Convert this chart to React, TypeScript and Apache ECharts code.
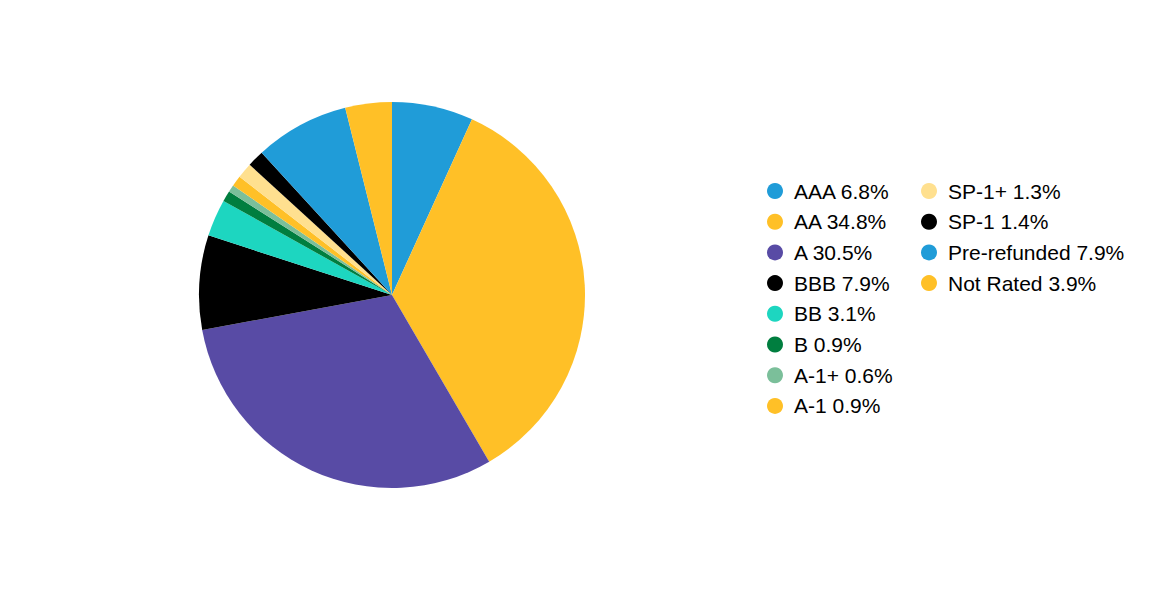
import React, { useEffect, useRef } from "react";
import * as echarts from "echarts";

const categories = ["AAA", "AA", "A", "BBB", "BB", "B", "A-1+", "A-1", "SP-1+", "SP-1", "Pre-refunded", "Not Rated"];
const values = [6.8, 34.8, 30.5, 7.9, 3.1, 0.9, 0.6, 0.9, 1.3, 1.4, 7.9, 3.9];
const colors = ["#209CD8", "#FFC027", "#584BA5", "#000000", "#1DD6C0", "#007E3F", "#7BBF9A", "#FFC027", "#FFE08F", "#000000", "#209CD8", "#FFC027"];

export default function App() {
  const ref = useRef<HTMLDivElement>(null);
  useEffect(() => {
    if (!ref.current) return;
    const chart = echarts.init(ref.current, null, { renderer: "svg" });
    const fmt = (name: string) => {
      const i = categories.indexOf(name);
      return `${name} ${values[i].toFixed(1)}%`;
    };
    const legendBase = {
      orient: "vertical" as const,
      icon: "circle",
      itemWidth: 28,
      itemHeight: 16,
      itemGap: 9.7,
      selectedMode: false,
      formatter: fmt,
      textStyle: { fontFamily: "Liberation Sans, Arial, sans-serif", fontSize: 21, color: "#000", lineHeight: 21, padding: 0 },
      padding: 0,
      top: 180.5,
    };
    chart.setOption({
      animation: false,
      color: colors,
      legend: [
        { ...legendBase, left: 767, data: categories.slice(0, 8) },
        { ...legendBase, left: 921, data: categories.slice(8) },
      ],
      series: [
        {
          type: "pie",
          center: [392, 295],
          radius: [0, 193],
          startAngle: 90,
          clockwise: true,
          label: { show: false },
          labelLine: { show: false },
          emphasis: { disabled: true },
          itemStyle: { borderWidth: 0 },
          data: categories.map((c, i) => ({ name: c, value: values[i], itemStyle: { color: colors[i] } })),
        },
      ],
    });
    return () => chart.dispose();
  }, []);
  return <div ref={ref} style={{ width: 1152, height: 600, position: "absolute", left: 0, top: 0 }} />;
}
